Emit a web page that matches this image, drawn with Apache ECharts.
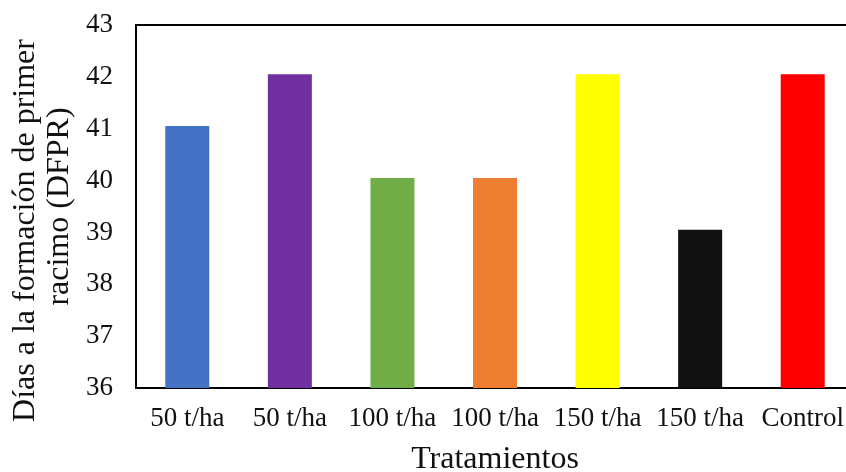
<!DOCTYPE html>
<html>
<head>
<meta charset="utf-8">
<style>
  html, body { margin: 0; padding: 0; background: #fff; }
  #chart { width: 846px; height: 472px; }
</style>
<script src="https://cdn.jsdelivr.net/npm/echarts@6/dist/echarts.min.js"></script>
</head>
<body>
<div id="chart"></div>
<script>
// Tratamientos y días a la formación del primer racimo
const categories = ['50 t/ha', '50 t/ha', '100 t/ha', '100 t/ha', '150 t/ha', '150 t/ha', 'Control'];
const dfpr = [41.05, 42.05, 40.05, 40.05, 42.05, 39.05, 42.05];
const barColors = ['#4472C4', '#7030A0', '#70AD47', '#ED7D31', '#FFFF00', '#111111', '#FF0000'];
const yTicks = { min: 36, max: 43, step: 1 };

const serif = '"Liberation Serif", "Times New Roman", serif';
const textColor = '#111';

const chart = echarts.init(document.getElementById('chart'), null, { renderer: 'canvas' });

chart.setOption({
  animation: false,
  backgroundColor: '#fff',
  grid: {
    left: 136,
    top: 25,
    width: 718,
    bottom: 84,
    containLabel: false,
    outerBoundsMode: 'none',
    show: true,
    borderColor: '#000',
    borderWidth: 2,
    backgroundColor: 'transparent'
  },
  xAxis: {
    type: 'category',
    data: categories,
    axisLine: { show: true, lineStyle: { color: '#000', width: 2 } },
    axisTick: { show: false },
    axisLabel: {
      color: textColor,
      fontFamily: serif,
      fontSize: 27,
      margin: 17,
      interval: 0
    },
    name: 'Tratamientos',
    nameLocation: 'middle',
    nameGap: 56,
    nameTextStyle: { color: textColor, fontFamily: serif, fontSize: 32 }
  },
  yAxis: {
    type: 'value',
    min: yTicks.min,
    max: yTicks.max,
    interval: yTicks.step,
    splitLine: { show: false },
    axisLine: { show: true, lineStyle: { color: '#000', width: 2 } },
    axisTick: { show: false },
    axisLabel: {
      color: textColor,
      fontFamily: serif,
      fontSize: 27,
      margin: 23
    },
    name: '{a|Días a la formación de primer}\n{b|racimo (DFPR)}',
    nameLocation: 'middle',
    nameRotate: 90,
    nameGap: 54,
    nameTextStyle: {
      color: textColor,
      fontFamily: serif,
      fontSize: 32,
      rich: {
        a: { fontFamily: serif, fontSize: 32, lineHeight: 34, color: textColor, padding: [0, 48, 0, 0] },
        b: { fontFamily: serif, fontSize: 32, lineHeight: 34, color: textColor }
      }
    }
  },
  series: [{
    type: 'bar',
    barWidth: 44,
    data: dfpr.map((v, i) => ({ value: v, itemStyle: { color: barColors[i] } }))
  }]
});
</script>
</body>
</html>
